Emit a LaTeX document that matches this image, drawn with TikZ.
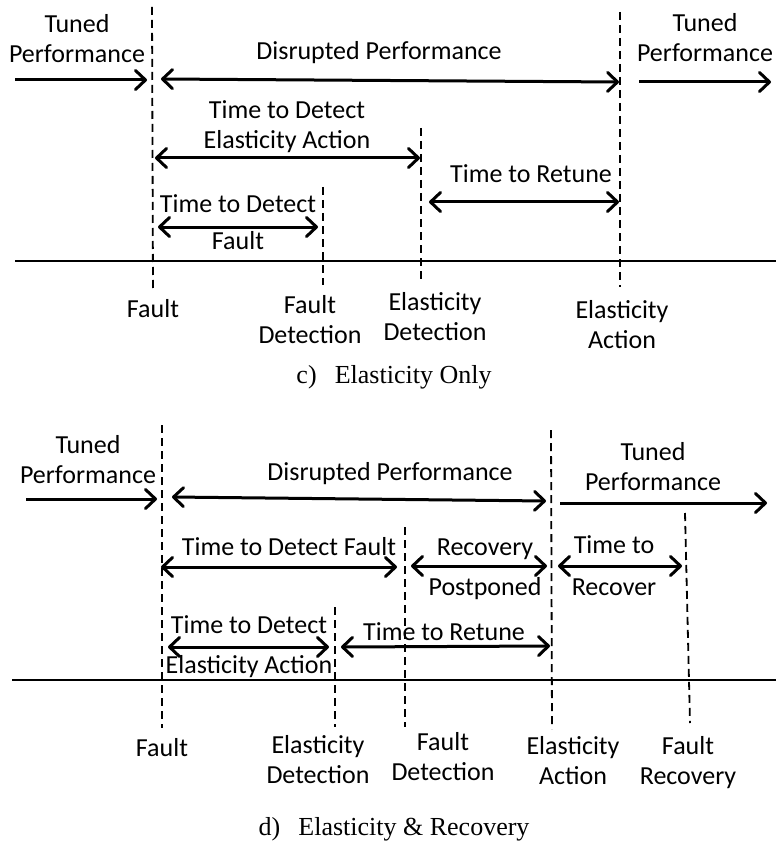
\documentclass[tikz,border=0pt]{standalone}
\usepackage{fontspec}
\setmainfont{Carlito}
\newfontfamily\capfont{Liberation Serif}
\usetikzlibrary{arrows.meta}
\begin{document}
\begin{tikzpicture}[x=1pt,y=-1pt,
  % multi-line labels are placed at the baseline of their last line
  lbl/.style={font=\fontsize{26}{30}\selectfont, align=center, anchor=base, inner sep=0pt},
  captext/.style={font=\capfont\fontsize{26}{30}\selectfont, anchor=base, inner sep=0pt},
  spanarrow/.style={line width=3pt, {Straight Barb[length=10pt,width=19pt,round]}-{Straight Barb[length=10pt,width=19pt,round]}},
  flowarrow/.style={line width=3pt, -{Straight Barb[length=10pt,width=19pt,round]}},
  evtline/.style={line width=1.8pt, dash pattern=on 8pt off 5pt},
  timeaxis/.style={line width=2pt}]
\useasboundingbox (0,0) rectangle (776,842);

% ---------- c) Elasticity Only ----------
% event markers
\coordinate (cF1) at (152,7);   \coordinate (cF2) at (153,290);
\coordinate (cD1) at (323,187); \coordinate (cD2) at (323,285);
\coordinate (cE1) at (421,128); \coordinate (cE2) at (421,283);
\coordinate (cA1) at (620,12);  \coordinate (cA2) at (620,287);
\draw[evtline] (cF1) -- (cF2);
\draw[evtline] (cD1) -- (cD2);
\draw[evtline] (cE1) -- (cE2);
\draw[evtline] (cA1) -- (cA2);
% time axis
\coordinate (cX1) at (15,261); \coordinate (cX2) at (776,261);
\draw[timeaxis] (cX1) -- (cX2);

\node[lbl] (cTunedL) at (77,63) {Tuned\\Performance};
\coordinate (cT1a) at (15,80); \coordinate (cT1b) at (147,80);
\draw[flowarrow] (cT1a) -- (cT1b);

\node[lbl] (cDis) at (379,60) {Disrupted Performance};
\coordinate (cDisa) at (161,79); \coordinate (cDisb) at (619,82);
\draw[spanarrow] (cDisa) -- (cDisb);

\node[lbl] (cTunedR) at (705,62) {Tuned\\Performance};
\coordinate (cT2a) at (639,82); \coordinate (cT2b) at (771,82);
\draw[flowarrow] (cT2a) -- (cT2b);

\node[lbl] (cTDE) at (287,149) {Time to Detect\\Elasticity Action};
\coordinate (cTDEa) at (155,158); \coordinate (cTDEb) at (420,158);
\draw[spanarrow] (cTDEa) -- (cTDEb);

\node[lbl] (cRet) at (531,183) {Time to Retune};
\coordinate (cReta) at (429,202); \coordinate (cRetb) at (619,202);
\draw[spanarrow] (cReta) -- (cRetb);

\node[lbl] (cTDF) at (238,249) {Time to Detect\\[6pt]Fault};
\coordinate (cTDFa) at (158,227); \coordinate (cTDFb) at (318,227);
\draw[spanarrow] (cTDFa) -- (cTDFb);

\node[lbl] (cLF)  at (153,317) {Fault};
\node[lbl] (cLFD) at (310,343) {Fault\\Detection};
\node[lbl] (cLED) at (435,340) {Elasticity\\Detection};
\node[lbl] (cLEA) at (622,348) {Elasticity\\Action};

\node[captext] (capc) at (394,383) {c)\hspace{0.7em}Elasticity Only};

% ---------- d) Elasticity & Recovery ----------
\coordinate (dF1) at (162,425); \coordinate (dF2) at (162,728);
\coordinate (dE1) at (335,607); \coordinate (dE2) at (335,727);
\coordinate (dD1) at (405,527); \coordinate (dD2) at (405,727);
\coordinate (dA1) at (551,430); \coordinate (dA2) at (552,729);
\coordinate (dR1) at (685,513); \coordinate (dR2) at (690,723);
\draw[evtline] (dF1) -- (dF2);
\draw[evtline] (dE1) -- (dE2);
\draw[evtline] (dD1) -- (dD2);
\draw[evtline] (dA1) -- (dA2);
\draw[evtline] (dR1) -- (dR2);
\coordinate (dX1) at (12,680); \coordinate (dX2) at (776,680);
\draw[timeaxis] (dX1) -- (dX2);

\node[lbl] (dTunedL) at (88,483) {Tuned\\Performance};
\coordinate (dT1a) at (26,499); \coordinate (dT1b) at (157,499);
\draw[flowarrow] (dT1a) -- (dT1b);

\node[lbl] (dDis) at (390,480) {Disrupted Performance};
\coordinate (dDisa) at (172,497); \coordinate (dDisb) at (546,501);
\draw[spanarrow] (dDisa) -- (dDisb);

\node[lbl] (dTunedR) at (653,490) {Tuned\\Performance};
\coordinate (dT2a) at (560,503); \coordinate (dT2b) at (767,503);
\draw[flowarrow] (dT2a) -- (dT2b);

\node[lbl] (dTDF) at (289,555) {Time to Detect Fault};
\coordinate (dTDFa) at (161,567); \coordinate (dTDFb) at (397,567);
\draw[spanarrow] (dTDFa) -- (dTDFb);

\node[lbl] (dPost) at (485,595) {Recovery\\[10pt]Postponed};
\coordinate (dPosta) at (411,566); \coordinate (dPostb) at (547,566);
\draw[spanarrow] (dPosta) -- (dPostb);

\node[lbl] (dRec) at (614,595) {Time to\\[12pt]Recover};
\coordinate (dReca) at (558,566); \coordinate (dRecb) at (682,566);
\draw[spanarrow] (dReca) -- (dRecb);

\node[lbl] (dTDE) at (249,673) {Time to Detect\\[10pt]Elasticity Action};
\coordinate (dTDEa) at (168,647); \coordinate (dTDEb) at (329,647);
\draw[spanarrow] (dTDEa) -- (dTDEb);

\node[lbl] (dRet) at (444,640) {Time to Retune};
\coordinate (dReta) at (341,647); \coordinate (dRetb) at (550,646);
\draw[spanarrow] (dReta) -- (dRetb);

\node[lbl] (dLF)  at (162,756) {Fault};
\node[lbl] (dLED) at (318,783) {Elasticity\\Detection};
\node[lbl] (dLFD) at (443,780) {Fault\\Detection};
\node[lbl] (dLEA) at (573,784) {Elasticity\\Action};
\node[lbl] (dLFR) at (688,784) {Fault\\Recovery};

\node[captext] (capd) at (394,835) {d)\hspace{0.7em}Elasticity \& Recovery};
\end{tikzpicture}
\end{document}
